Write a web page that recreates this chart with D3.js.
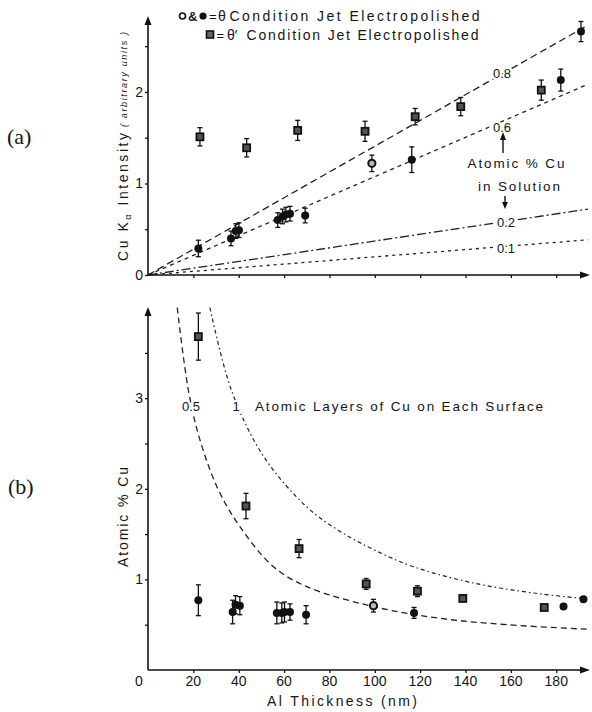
<!DOCTYPE html>
<html><head><meta charset="utf-8">
<script src="https://cdn.jsdelivr.net/npm/d3@7"></script>
<style>
body{margin:0;background:#fff}
text{font-family:"Liberation Sans",Arial,sans-serif;fill:#151515}
</style>
</head><body><svg id="c" width="592" height="712"></svg>
<script>
// ---------- data ----------
const xTickValues = [20,40,60,80,100,120,140,160,180];
const yTicksA = [0,0.5,1,1.5,2,2.5];
const yLabelsA = [0,1,2];
const yTicksB = [0.5,1,1.5,2,2.5,3,3.5];
const yLabelsB = [1,2,3];
// panel (a): [Al thickness nm, Cu K-alpha intensity, error]
const aThetaPrime = [[22.9,1.51,0.10],[43.5,1.39,0.10],[66.0,1.58,0.11],[95.7,1.57,0.11],[117.8,1.73,0.09],[137.9,1.84,0.10],[173.4,2.02,0.11]];
const aThetaFilled = [[22.2,0.29,0.09],[36.6,0.40,0.08],[38.7,0.48,0.08],[40.1,0.49,0.08],[57.2,0.60,0.08],[59.3,0.64,0.08],[60.8,0.66,0.08],[62.6,0.67,0.08],[69.3,0.65,0.08],[116.3,1.26,0.14],[182.0,2.13,0.12],[190.9,2.66,0.11]];
const aThetaOpen = [[98.7,1.22,0.09]];
const solutionLabels = ["0.8","0.6","0.2","0.1"];
const solutionEndX = 194;
const solutionEndY = [2.73,2.085,0.72,0.385];
const solutionDash = ["7 4","4 4","9 3 2 3","3 4"];
// panel (b): [Al thickness nm, atomic % Cu, error]
const bThetaPrime = [[22.2,3.68,0.26],[43.2,1.81,0.14],[66.6,1.34,0.10],[96.2,0.95,0.06],[118.8,0.87,0.06],[138.8,0.79,0.03],[174.7,0.69,0]];
const bThetaFilled = [[22.2,0.77,0.17],[37.3,0.64,0.13],[38.6,0.72,0.10],[40.5,0.71,0.10],[56.8,0.63,0.12],[59.0,0.63,0.11],[60.2,0.64,0.11],[62.6,0.64,0.09],[69.7,0.61,0.10],[117.3,0.63,0.06],[183.2,0.70,0],[192.0,0.78,0]];
const bThetaOpen = [[99.4,0.71,0.07]];
const layerHalf = [[12.9,4.0],[17.8,3.09],[22.9,2.54],[31,1.99],[40.6,1.58],[55.3,1.14],[70,0.92],[99.4,0.70],[128.8,0.57],[158.2,0.50],[193.5,0.45]];
const layerOne = [[27.3,4.0],[36.9,3.08],[50.9,2.36],[70,1.80],[84.7,1.53],[99.4,1.33],[117,1.14],[143.5,0.96],[172.9,0.84],[192,0.79]];

// ---------- scales ----------
const svg = d3.select("#c");
const x = d3.scaleLinear().domain([0,194]).range([148,588]);
const yA = d3.scaleLinear().domain([0,2.83]).range([275,16]);
const yB = d3.scaleLinear().domain([0,4.0]).range([670,307.6]);

// ---------- helpers ----------
function axisLines(y0, ytop){
  svg.append("line").attr("x1",148).attr("x2",148).attr("y1",y0).attr("y2",ytop+6)
    .attr("stroke","#111").attr("stroke-width",1.6);
  svg.append("line").attr("x1",148).attr("x2",582).attr("y1",y0).attr("y2",y0)
    .attr("stroke","#111").attr("stroke-width",1.6);
  svg.append("path").attr("d",`M148,${ytop} L144.5,${ytop+9} L151.5,${ytop+9} Z`).attr("fill","#111");
  svg.append("path").attr("d",`M590,${y0} L580,${y0-3.5} L580,${y0+3.5} Z`).attr("fill","#111");
}
function yAxis(scale, ticks, labels){
  const g = svg.append("g").attr("transform","translate(148,0)")
    .call(d3.axisLeft(scale).tickValues(ticks).tickSize(3).tickFormat(""));
  g.select(".domain").remove();
  g.selectAll("line").attr("stroke","#111").attr("stroke-width",1.3);
  svg.selectAll(null).data(labels).enter().append("text")
    .attr("x",143).attr("y",d=>scale(d)+5).attr("text-anchor","end")
    .attr("font-size",14).text(d=>d);
}
function xAxis(y0, withLabels){
  const g = svg.append("g").attr("transform",`translate(0,${y0})`)
    .call(d3.axisBottom(x).tickValues(xTickValues).tickSize(3).tickFormat(""));
  g.select(".domain").remove();
  g.selectAll("line").attr("stroke","#111").attr("stroke-width",1.3);
  if(withLabels){
    svg.selectAll(null).data(xTickValues).enter().append("text")
      .attr("x",d=>x(d)).attr("y",y0+16).attr("text-anchor","middle")
      .attr("font-size",14).text(d=>d);
  }
}
function errorBars(data, ys){
  const g = svg.append("g").attr("stroke","#111").attr("stroke-width",1.3);
  data.filter(d=>d[2]>0).forEach(d=>{
    const cx=x(d[0]), t=ys(d[1]+d[2]), b=ys(d[1]-d[2]);
    g.append("line").attr("x1",cx).attr("x2",cx).attr("y1",t).attr("y2",b);
    g.append("line").attr("x1",cx-2.5).attr("x2",cx+2.5).attr("y1",t).attr("y2",t);
    g.append("line").attr("x1",cx-2.5).attr("x2",cx+2.5).attr("y1",b).attr("y2",b);
  });
}
function squares(data, ys){
  svg.selectAll(null).data(data).enter().append("rect")
    .attr("x",d=>x(d[0])-3.5).attr("y",d=>ys(d[1])-3.5).attr("width",7).attr("height",7)
    .attr("fill","#555").attr("stroke","#111").attr("stroke-width",1.8);
}
function filled(data, ys){
  svg.selectAll(null).data(data).enter().append("circle")
    .attr("cx",d=>x(d[0])).attr("cy",d=>ys(d[1])).attr("r",4).attr("fill","#111");
}
function open(data, ys){
  svg.selectAll(null).data(data).enter().append("circle")
    .attr("cx",d=>x(d[0])).attr("cy",d=>ys(d[1])).attr("r",3.6)
    .attr("fill","#bbb").attr("stroke","#111").attr("stroke-width",2);
}
function halo(sel){ return sel.attr("stroke","#fff").attr("stroke-width",4).attr("paint-order","stroke"); }

// ---------- panel (a) ----------
solutionLabels.forEach((lab,i)=>{
  svg.append("line").attr("x1",x(0)).attr("y1",yA(0))
    .attr("x2",x(solutionEndX)).attr("y2",yA(solutionEndY[i]))
    .attr("stroke","#222").attr("stroke-width",1.3).attr("stroke-dasharray",solutionDash[i]);
});
axisLines(275,16);
yAxis(yA, yTicksA, yLabelsA);
xAxis(275,false);
errorBars(aThetaPrime,yA); errorBars(aThetaFilled,yA); errorBars(aThetaOpen,yA);
squares(aThetaPrime,yA); filled(aThetaFilled,yA); open(aThetaOpen,yA);

const lblPos = [[502,78],[502,131.5],[506,226.5],[506,252.5]];
solutionLabels.forEach((lab,i)=>{
  halo(svg.append("text").attr("x",lblPos[i][0]).attr("y",lblPos[i][1])
    .attr("text-anchor","middle").attr("font-size",13).text(lab));
});
svg.append("text").attr("x",516).attr("y",167.5).attr("text-anchor","middle").attr("font-size",13.5)
  .attr("textLength",97).text("Atomic % Cu");
svg.append("text").attr("x",519).attr("y",190.5).attr("text-anchor","middle").attr("font-size",13.5)
  .attr("textLength",82).text("in Solution");
svg.append("line").attr("x1",503).attr("x2",503).attr("y1",153).attr("y2",138).attr("stroke","#111").attr("stroke-width",1.4);
svg.append("path").attr("d","M503,132 L500,140 L506,140 Z").attr("fill","#111");
svg.append("line").attr("x1",505).attr("x2",505).attr("y1",196).attr("y2",203).attr("stroke","#111").attr("stroke-width",1.4);
svg.append("path").attr("d","M505,209 L502,202 L508,202 Z").attr("fill","#111");

// legend
svg.append("circle").attr("cx",182.5).attr("cy",16).attr("r",3).attr("fill","#fff").attr("stroke","#111").attr("stroke-width",1.6);
svg.append("text").attr("x",188).attr("y",21).attr("font-size",13).attr("font-weight","bold").text("&");
svg.append("circle").attr("cx",203).attr("cy",16).attr("r",3.6).attr("fill","#111");
svg.append("text").attr("x",209).attr("y",21).attr("font-size",13).text("=");
svg.append("text").attr("x",218).attr("y",21).attr("font-size",14).text("θ");
svg.append("text").attr("x",229.5).attr("y",21).attr("font-size",14).attr("textLength",250).text("Condition Jet Electropolished");
svg.append("rect").attr("x",206.5).attr("y",31).attr("width",7).attr("height",7).attr("fill","#666").attr("stroke","#111").attr("stroke-width",1.6);
svg.append("text").attr("x",216.5).attr("y",39.5).attr("font-size",13).text("=");
svg.append("text").attr("x",227).attr("y",39.5).attr("font-size",14).text("θ′");
svg.append("text").attr("x",246.5).attr("y",39.5).attr("font-size",14).attr("textLength",232).text("Condition Jet Electropolished");

// y label (a)
const ta = svg.append("text").attr("transform","translate(128,261) rotate(-90)")
  .attr("font-size",14).attr("textLength",128);
ta.append("tspan").text("Cu K");
ta.append("tspan").attr("font-size",9).attr("dy",3).text("α");
ta.append("tspan").attr("dy",-3).text(" Intensity");
svg.append("text").attr("transform","translate(127,127) rotate(-90)")
  .attr("font-size",9).attr("font-style","italic").attr("textLength",95).text("( arbitrary units )");

// ---------- panel (b) ----------
const line = d3.line().x(d=>x(d[0])).curve(d3.curveCatmullRom);
svg.append("path").datum(layerHalf).attr("d",line.y(d=>yB(d[1]))).attr("fill","none")
  .attr("stroke","#222").attr("stroke-width",1.3).attr("stroke-dasharray","6 4");
svg.append("path").datum(layerOne).attr("d",line.y(d=>yB(d[1]))).attr("fill","none")
  .attr("stroke","#222").attr("stroke-width",1.2).attr("stroke-dasharray","4 3 1.5 3");
axisLines(670,307);
yAxis(yB, yTicksB, yLabelsB);
xAxis(670,true);
svg.append("text").attr("x",139).attr("y",686).attr("text-anchor","middle").attr("font-size",14).text("0");
errorBars(bThetaPrime,yB); errorBars(bThetaFilled,yB); errorBars(bThetaOpen,yB);
squares(bThetaPrime,yB); filled(bThetaFilled,yB); open(bThetaOpen,yB);

halo(svg.append("text").attr("x",191).attr("y",411).attr("text-anchor","middle").attr("font-size",13).text("0.5"));
halo(svg.append("text").attr("x",236).attr("y",411).attr("text-anchor","middle").attr("font-size",13).text("1"));
svg.append("text").attr("x",255).attr("y",411).attr("font-size",13.5).attr("textLength",288).text("Atomic Layers of Cu on Each Surface");

svg.append("text").attr("transform","translate(128,567) rotate(-90)").attr("font-size",14)
  .attr("textLength",100).text("Atomic % Cu");
svg.append("text").attr("x",267).attr("y",706).attr("font-size",14).attr("textLength",150).text("Al Thickness (nm)");

// panel tags
svg.append("text").attr("x",7).attr("y",144)
  .style("font-family","'Liberation Serif','Times New Roman',serif").attr("font-size",22).text("(a)");
svg.append("text").attr("x",8).attr("y",494)
  .style("font-family","'Liberation Serif','Times New Roman',serif").attr("font-size",22).text("(b)");
</script></body></html>
